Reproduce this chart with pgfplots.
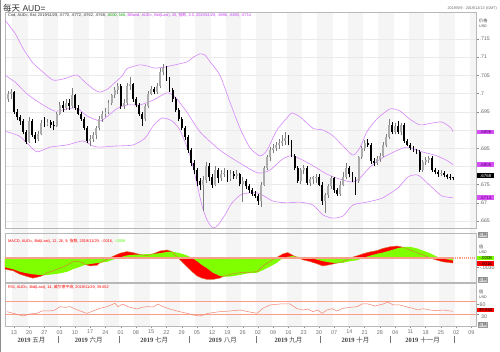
\documentclass[border=0pt]{standalone}
\usepackage{fontspec}
\setmainfont{Liberation Sans}
\newfontfamily\cjk{Noto Sans CJK SC}
\newfontfamily\sernum{Liberation Serif}
\usepackage{pgfplots}
\usepackage{pgfplotstable}
\pgfplotsset{compat=1.18}
\definecolor{stripe}{RGB}{245,245,245}
\definecolor{gridc}{RGB}{234,234,234}
\definecolor{bb}{RGB}{215,135,250}
\definecolor{bbtext}{RGB}{200,60,240}
\definecolor{upbody}{RGB}{172,172,172}
\definecolor{upwick}{RGB}{125,125,125}
\definecolor{salmon}{RGB}{248,160,140}
\definecolor{rsiline}{RGB}{245,130,110}
\definecolor{macdline}{RGB}{215,120,60}
\definecolor{limeg}{RGB}{128,255,0}
\definecolor{tagv}{RGB}{215,80,245}
\definecolor{tagtxt}{RGB}{90,0,120}

\pgfplotstableread{
t o h l c
-2 0.6985 0.7008 0.6978 0.6998
-1 0.6998 0.7012 0.6985 0.7003
0 0.7003 0.7008 0.6945 0.6950
1 0.6950 0.6958 0.6928 0.6935
2 0.6935 0.6942 0.6915 0.6925
3 0.6925 0.6930 0.6888 0.6895
4 0.6895 0.6900 0.6862 0.6867
5 0.6867 0.6935 0.6865 0.6925
6 0.6925 0.6930 0.6880 0.6885
7 0.6885 0.6895 0.6865 0.6875
8 0.6875 0.6898 0.6870 0.6890
9 0.6890 0.6928 0.6885 0.6920
10 0.6920 0.6935 0.6908 0.6915
11 0.6915 0.6930 0.6910 0.6922
12 0.6922 0.6928 0.6905 0.6915
13 0.6915 0.6925 0.6900 0.6912
14 0.6912 0.6950 0.6908 0.6945
15 0.6945 0.6978 0.6940 0.6970
16 0.6970 0.6980 0.6950 0.6960
17 0.6960 0.6985 0.6955 0.6975
18 0.6975 0.6985 0.6955 0.6965
19 0.6965 0.7015 0.6960 0.6995
20 0.6995 0.7000 0.6955 0.6960
21 0.6960 0.6968 0.6940 0.6945
22 0.6945 0.6950 0.6925 0.6930
23 0.6930 0.6935 0.6900 0.6905
24 0.6905 0.6910 0.6865 0.6870
25 0.6870 0.6885 0.6855 0.6875
26 0.6875 0.6895 0.6868 0.6885
27 0.6885 0.6910 0.6875 0.6905
28 0.6905 0.6938 0.6900 0.6930
29 0.6930 0.6952 0.6922 0.6945
30 0.6945 0.6960 0.6935 0.6950
31 0.6950 0.6982 0.6945 0.6975
32 0.6975 0.7000 0.6968 0.6995
33 0.6995 0.7018 0.6988 0.7010
34 0.7010 0.7030 0.7000 0.7020
35 0.7020 0.7025 0.6958 0.6965
36 0.6965 0.6985 0.6958 0.6975
37 0.6975 0.7030 0.6970 0.7020
38 0.7020 0.7045 0.7010 0.7025
39 0.7025 0.7030 0.6978 0.6985
40 0.6985 0.6992 0.6962 0.6970
41 0.6970 0.6975 0.6938 0.6945
42 0.6945 0.6950 0.6912 0.6930
43 0.6930 0.6972 0.6925 0.6965
44 0.6965 0.7008 0.6960 0.7000
45 0.7000 0.7022 0.6995 0.7012
46 0.7012 0.7018 0.6998 0.7005
47 0.7005 0.7028 0.7000 0.7020
48 0.7020 0.7070 0.7015 0.7060
49 0.7060 0.7082 0.7050 0.7070
50 0.7070 0.7075 0.7035 0.7040
51 0.7040 0.7045 0.7005 0.7010
52 0.7010 0.7015 0.6978 0.6985
53 0.6985 0.6990 0.6950 0.6955
54 0.6955 0.6960 0.6925 0.6930
55 0.6930 0.6935 0.6900 0.6905
56 0.6905 0.6910 0.6872 0.6880
57 0.6880 0.6885 0.6838 0.6845
58 0.6845 0.6850 0.6800 0.6810
59 0.6810 0.6818 0.6780 0.6790
60 0.6790 0.6795 0.6745 0.6760
61 0.6760 0.6768 0.6735 0.6750
62 0.6750 0.6775 0.6677 0.6762
63 0.6762 0.6812 0.6755 0.6800
64 0.6800 0.6810 0.6760 0.6770
65 0.6770 0.6780 0.6740 0.6750
66 0.6750 0.6800 0.6745 0.6790
67 0.6790 0.6795 0.6755 0.6768
68 0.6768 0.6790 0.6760 0.6778
69 0.6778 0.6795 0.6770 0.6782
70 0.6782 0.6790 0.6758 0.6765
71 0.6765 0.6790 0.6760 0.6780
72 0.6780 0.6788 0.6765 0.6775
73 0.6775 0.6790 0.6765 0.6778
74 0.6778 0.6782 0.6745 0.6752
75 0.6752 0.6772 0.6702 0.6760
76 0.6760 0.6765 0.6738 0.6745
77 0.6745 0.6752 0.6728 0.6735
78 0.6735 0.6740 0.6718 0.6725
79 0.6725 0.6732 0.6712 0.6720
80 0.6720 0.6725 0.6695 0.6705
81 0.6705 0.6758 0.6688 0.6750
82 0.6750 0.6802 0.6745 0.6795
83 0.6795 0.6832 0.6790 0.6825
84 0.6825 0.6852 0.6815 0.6845
85 0.6845 0.6862 0.6838 0.6850
86 0.6850 0.6868 0.6842 0.6858
87 0.6858 0.6875 0.6848 0.6865
88 0.6865 0.6885 0.6855 0.6870
89 0.6870 0.6895 0.6860 0.6878
90 0.6878 0.6885 0.6860 0.6868
91 0.6868 0.6872 0.6825 0.6830
92 0.6830 0.6835 0.6790 0.6796
93 0.6796 0.6800 0.6755 0.6760
94 0.6760 0.6795 0.6752 0.6790
95 0.6790 0.6805 0.6780 0.6795
96 0.6795 0.6800 0.6748 0.6755
97 0.6755 0.6770 0.6745 0.6765
98 0.6765 0.6775 0.6752 0.6770
99 0.6770 0.6778 0.6755 0.6772
100 0.6772 0.6778 0.6745 0.6750
101 0.6750 0.6758 0.6695 0.6705
102 0.6705 0.6728 0.6671 0.6721
103 0.6721 0.6752 0.6712 0.6745
104 0.6745 0.6775 0.6738 0.6768
105 0.6768 0.6772 0.6728 0.6735
106 0.6735 0.6740 0.6718 0.6725
107 0.6725 0.6760 0.6720 0.6750
108 0.6750 0.6785 0.6745 0.6770
109 0.6770 0.6810 0.6765 0.6795
110 0.6795 0.6800 0.6770 0.6780
111 0.6780 0.6785 0.6758 0.6765
112 0.6765 0.6770 0.6721 0.6760
113 0.6760 0.6830 0.6755 0.6826
114 0.6826 0.6855 0.6820 0.6850
115 0.6850 0.6872 0.6842 0.6865
116 0.6865 0.6875 0.6852 0.6860
117 0.6860 0.6865 0.6808 0.6815
118 0.6815 0.6822 0.6800 0.6810
119 0.6810 0.6828 0.6805 0.6820
120 0.6820 0.6838 0.6812 0.6830
121 0.6830 0.6868 0.6825 0.6860
122 0.6860 0.6890 0.6852 0.6880
123 0.6880 0.6929 0.6875 0.6915
124 0.6915 0.6922 0.6890 0.6895
125 0.6895 0.6918 0.6888 0.6910
126 0.6910 0.6925 0.6890 0.6895
127 0.6895 0.6920 0.6885 0.6915
128 0.6915 0.6920 0.6865 0.6870
129 0.6870 0.6875 0.6855 0.6860
130 0.6860 0.6865 0.6845 0.6850
131 0.6850 0.6855 0.6840 0.6845
132 0.6845 0.6848 0.6835 0.6840
133 0.6840 0.6845 0.6785 0.6790
134 0.6790 0.6818 0.6785 0.6812
135 0.6812 0.6825 0.6805 0.6818
136 0.6818 0.6830 0.6810 0.6822
137 0.6822 0.6828 0.6785 0.6790
138 0.6790 0.6795 0.6778 0.6785
139 0.6785 0.6790 0.6772 0.6780
140 0.6780 0.6790 0.6775 0.6783
141 0.6783 0.6788 0.6770 0.6776
142 0.6776 0.6780 0.6765 0.6772
143 0.6772 0.6778 0.6764 0.6770
144 0.6770 0.6772 0.6762 0.6768
}\candles

\pgfplotstableread{
t p
-3.0 0.7202
0.3 0.7166
2.9 0.7125
4.6 0.7103
6.2 0.7084
9.5 0.7059
12.8 0.7037
16.1 0.7040
19.0 0.7048
20.7 0.7051
22.6 0.7037
25.9 0.7013
28.2 0.7004
30.8 0.7013
32.5 0.7026
35.4 0.7048
37.0 0.7068
39.7 0.7076
41.3 0.7079
43.6 0.7076
46.2 0.7070
49.5 0.7073
52.8 0.7079
56.7 0.7087
59.0 0.7101
61.0 0.7109
62.6 0.7106
64.3 0.7087
67.5 0.7051
70.8 0.6977
74.1 0.6905
77.4 0.6851
80.7 0.6829
83.0 0.6845
86.2 0.6900
89.5 0.6933
91.1 0.6947
93.8 0.6936
98.0 0.6905
101.3 0.6900
104.6 0.6884
107.9 0.6856
111.1 0.6831
113.4 0.6851
115.7 0.6895
119.0 0.6930
123.3 0.6958
126.6 0.6952
129.8 0.6930
133.1 0.6914
137.0 0.6919
140.3 0.6922
143.0 0.6908
144.0 0.6896
}\bbupper

\pgfplotstableread{
t p
-3.0 0.7051
0.3 0.7032
2.0 0.7018
4.3 0.6999
8.5 0.6974
13.4 0.6952
17.4 0.6958
20.7 0.6960
23.9 0.6939
28.2 0.6925
30.8 0.6939
34.0 0.6960
37.4 0.6969
41.3 0.6969
45.6 0.6982
50.2 0.7002
52.8 0.6991
56.7 0.6949
61.0 0.6895
67.5 0.6845
74.1 0.6809
80.0 0.6782
83.9 0.6790
88.2 0.6821
91.5 0.6829
97.0 0.6807
102.6 0.6779
106.9 0.6765
111.1 0.6757
113.4 0.6768
116.7 0.6798
120.7 0.6823
125.9 0.6845
129.2 0.6853
133.8 0.6840
138.0 0.6831
141.6 0.6818
144.0 0.6805
}\bbmid

\pgfplotstableread{
t p
-3.0 0.6897
1.6 0.6884
4.3 0.6864
7.5 0.6840
11.8 0.6853
17.4 0.6859
22.6 0.6870
25.9 0.6856
28.2 0.6853
33.1 0.6856
39.0 0.6859
43.0 0.6878
45.6 0.6911
48.5 0.6933
51.8 0.6925
54.4 0.6900
57.7 0.6831
59.7 0.6763
61.6 0.6694
63.3 0.6653
65.2 0.6631
66.9 0.6639
69.2 0.6667
71.5 0.6700
74.8 0.6724
80.0 0.6727
84.9 0.6705
89.5 0.6700
93.8 0.6702
98.0 0.6694
101.3 0.6667
104.6 0.6658
107.9 0.6664
111.1 0.6694
115.7 0.6702
120.7 0.6713
125.9 0.6741
129.2 0.6771
132.5 0.6776
137.0 0.6743
140.3 0.6719
144.0 0.6714
}\bblower

% MACD in units of 0.001: A = signal (green), B = MACD (red / orange line)
\pgfplotstableread{
t A B
-3.0 -2.9 -3.5
-0.3 -3.5 -4.0
2.0 -4.3 -5.1
4.3 -4.8 -5.8
6.2 -5.1 -6.3
8.5 -5.3 -5.8
9.8 -5.3 -5.3
10.8 -5.3 -4.6
12.8 -5.1 -4.0
15.1 -4.8 -3.2
17.4 -4.3 -2.2
19.3 -3.5 -1.2
20.7 -3.1 -1.0
22.3 -2.5 -1.4
23.3 -2.2 -2.0
24.9 -1.9 -2.5
27.2 -1.6 -2.3
28.2 -1.5 -1.5
30.5 -1.2 -0.4
33.1 -0.3 0.8
34.8 0.2 1.5
37.0 0.8 2.0
39.0 1.0 1.7
41.3 1.1 1.1
43.6 1.2 0.7
45.6 1.3 1.3
47.9 1.5 2.2
50.2 1.9 2.5
51.8 2.0 2.0
53.4 1.7 0.4
55.1 1.3 -1.2
56.7 0.8 -2.7
58.4 0.0 -4.3
60.0 -1.0 -5.6
61.6 -2.2 -6.3
63.3 -3.2 -6.7
65.2 -4.6 -6.7
67.5 -5.6 -6.3
68.5 -5.8 -5.8
70.8 -5.8 -5.1
74.1 -5.3 -4.6
76.7 -4.8 -4.5
79.7 -4.6 -4.3
81.6 -3.8 -2.5
83.9 -2.7 -1.1
86.2 -1.5 0.2
88.2 0.0 1.3
89.8 0.4 1.7
91.5 0.6 0.8
92.8 0.4 0.2
94.8 0.2 -0.6
97.0 0.0 -1.1
99.3 -0.5 -1.8
101.3 -1.0 -2.5
103.6 -1.4 -2.1
105.9 -1.6 -1.6
107.9 -1.5 -1.1
110.2 -1.0 0.0
112.5 -0.7 0.7
114.4 0.0 1.3
116.7 0.7 1.9
119.0 1.3 2.3
121.0 1.7 3.0
123.3 2.3 3.5
125.6 3.0 3.75
127.5 3.4 3.4
129.8 3.5 2.5
132.1 3.0 1.7
134.1 2.3 1.0
136.4 1.5 0.0
138.7 0.4 -0.7
140.7 -0.2 -1.2
144.0 -0.8 -1.6
}\macd

\pgfplotstableread{
t r
-2.3 38
-0.3 33
3.0 25
5.2 31
7.5 33
9.2 40
11.8 40
13.4 43
15.1 53
16.7 51
18.4 53
20.0 46
22.3 38
23.9 33
25.9 40
28.2 48
30.5 53
33.1 63
34.1 53
35.7 61
37.4 53
40.3 46
42.0 51
43.6 53
45.6 52
47.2 61
48.9 53
51.1 46
53.4 40
56.7 33
58.7 28
61.0 25
62.0 28
63.6 33
65.2 35
67.5 38
70.8 40
74.1 43
76.7 38
79.7 33
81.6 48
83.9 58
87.2 61
90.5 61
92.8 47
94.8 43
96.4 46
98.0 38
99.7 43
101.0 33
102.6 43
104.3 47
105.9 40
107.9 48
110.2 51
112.5 53
114.1 61
116.1 61
118.4 55
121.0 61
122.6 67
124.3 58
126.6 58
128.9 52
130.8 48
132.5 43
134.1 47
136.4 43
138.7 41
140.7 43
143.0 40
144.0 39.652
}\rsi

\pgfplotsset{
  panel/.style={
    scale only axis, width=471pt, xmin=-2.95, xmax=151.5,
    clip mode=individual,
    axis line style={black!28, line width=0.5pt},
    xtick=\empty, ytick pos=right, tick align=outside,
    major tick length=2.5pt, tick style={black!45, line width=0.4pt},
    yticklabel style={font=\fontsize{5.2}{5.2}\selectfont, text=black!60, inner sep=1pt},
  },
}
\newcommand\rtag[4]{\node[fill=#1, text=#2, anchor=west, inner xsep=0.8pt, inner ysep=0.5pt,
  minimum width=17pt, font=\fontsize{4.4}{4.4}\selectfont] at (477,{352-#4}) {#3};}

\begin{document}
\begin{tikzpicture}[x=1pt,y=1pt]
\path[use as bounding box] (0,0) rectangle (500,352);
\fill[white] (0,0) rectangle (500,352);
% weekly stripes behind all panels
\foreach \k in {0,...,14} {
  \fill[stripe] ({14+3.04953*(10*\k-0.5)},26) rectangle ({14+3.04953*(10*\k+4.5)},340);
}
\fill[stripe] ({14+3.04953*149.5},26) rectangle (476,340);
\draw[black!45, line width=1.2pt] (0.6,0) -- (0.6,352);

% ---------------- price panel
\begin{axis}[panel, at={(5pt,124pt)}, anchor=south west, height=216pt,
  ymin=0.6631, ymax=0.7224,
  ytick={0.665,0.670,0.675,0.680,0.685,0.690,0.695,0.700,0.705,0.710,0.715},
  yticklabels={.665,.67,.675,{},.685,{},.695,.7,.705,.71,.715},
  ymajorgrids, grid style={gridc, line width=0.4pt}]
\addplot[bb, line width=0.6pt, smooth, tension=0.4] table[x=t,y=p] {\bbupper};
\addplot[bb, line width=0.6pt, smooth, tension=0.4] table[x=t,y=p] {\bbmid};
\addplot[bb, line width=0.6pt, smooth, tension=0.4] table[x=t,y=p] {\bblower};
% wicks
\addplot[draw=none, error bars/.cd, y dir=plus, y explicit, error mark=none,
  error bar style={draw=upwick, solid, line width=0.5pt}]
  table[x=t, y expr={\thisrow{c}>=\thisrow{o} ? \thisrow{l} : nan},
        y error plus expr={\thisrow{h}-\thisrow{l}}] {\candles};
\addplot[draw=none, error bars/.cd, y dir=plus, y explicit, error mark=none,
  error bar style={draw=black, solid, line width=0.5pt}]
  table[x=t, y expr={\thisrow{c}<\thisrow{o} ? \thisrow{l} : nan},
        y error plus expr={\thisrow{h}-\thisrow{l}}] {\candles};
% bodies
\addplot[draw=none, error bars/.cd, y dir=plus, y explicit, error mark=none,
  error bar style={draw=upbody, solid, line width=1.9pt}]
  table[x=t, y expr={\thisrow{c}>=\thisrow{o} ? \thisrow{o} : nan},
        y error plus expr={\thisrow{c}-\thisrow{o}}] {\candles};
\addplot[draw=none, error bars/.cd, y dir=plus, y explicit, error mark=none,
  error bar style={draw=black, solid, line width=1.9pt}]
  table[x=t, y expr={\thisrow{c}<\thisrow{o} ? \thisrow{c} : nan},
        y error plus expr={\thisrow{o}-\thisrow{c}}] {\candles};
\end{axis}

% ---------------- MACD panel
\begin{axis}[panel, at={(5pt,70pt)}, anchor=south west, height=49pt,
  ymin=-7.5, ymax=7.8, ytick={-3.0}, yticklabels={-.0030}]
\addplot[fill=red, draw=none] table[x=t,y=B] {\macd} \closedcycle;
\addplot[fill=limeg, draw=none] table[x=t,y=A] {\macd} \closedcycle;
\addplot[macdline, line width=0.45pt] table[x=t,y=B] {\macd};
\draw[salmon, line width=1.1pt] (axis cs:-2.95,0) -- (axis cs:144,0);
\draw[salmon, line width=1.1pt, densely dotted] (axis cs:144,0) -- (axis cs:151.5,0);
\end{axis}

% ---------------- RSI panel
\begin{axis}[panel, at={(5pt,26pt)}, anchor=south west, height=43pt,
  ymin=-5, ymax=124, ytick={30,60}, yticklabels={{},60},
  xtick={0,5,...,150},
  xticklabels={13,20,27,03,10,17,24,01,08,15,22,29,05,12,19,26,02,09,16,23,30,07,14,21,28,04,11,18,25,02,09},
  xtick pos=bottom,
  xticklabel style={font=\fontsize{5.5}{5.5}\selectfont, text=black!55, inner sep=1.5pt}]
\draw[salmon, line width=0.8pt] (axis cs:-2.95,70) -- (axis cs:151.5,70);
\draw[salmon, line width=1.3pt] (axis cs:-2.95,30) -- (axis cs:151.5,30);
\addplot[rsiline, line width=0.5pt] table[x=t,y=r] {\rsi};
\end{axis}

% ---------------- texts
\node[anchor=west, font=\fontsize{8.5}{8.5}\selectfont, text=black!80, inner sep=0] at (3,344) {{\cjk 每天} AUD=};
\node[anchor=east, font=\fontsize{3.8}{3.8}\selectfont, text=black!60, inner sep=0] at (497,343) {2019/5/9 - 2019/12/13 (GMT)};

\node[anchor=west, font=\fontsize{3.9}{3.9}\selectfont, inner sep=0] at (8,337)
 {\color{black!80}Cnd, AUD=, Bid, 2019/11/29, .6770, .6772, .6762, .6768, \color{green!60!black}.0000, N/A, \color{bbtext}BBand, AUD=, Bid(Last), 20, {\cjk 指数}, 2.0, 2019/11/29, .6896, .6805, .6714};
\node[anchor=west, font=\fontsize{3.9}{3.9}\selectfont, inner sep=0] at (8,111)
 {\color{red}MACD, AUD=, Bid(Last), 12, 26, 9, {\cjk 指数}, 2019/11/29, -.0016, \color{green!70!yellow}-.0008};
\node[anchor=west, font=\fontsize{3.9}{3.9}\selectfont, inner sep=0] at (8,65)
 {\color{red}RSI, AUD=, Bid(Last), 14, {\cjk 威尔德平滑}, 2019/11/29, 39.652};

% right labels
\node[anchor=west, font=\fontsize{4.2}{4.2}\selectfont\cjk, text=black!70, inner sep=0] at (479,331) {价格};
\node[anchor=west, font=\fontsize{3.6}{3.6}\selectfont, text=black!70, inner sep=0] at (479,326) {USD};
\rtag{tagv}{tagtxt}{.6896}{132}
\rtag{tagv}{tagtxt}{.6805}{164.5}
\rtag{black}{white}{.6768}{175.5}
\rtag{tagv}{tagtxt}{.6714}{197.5}
\node[anchor=west, fill=black!12, draw=black!40, font=\fontsize{4.2}{4.2}\selectfont\cjk, text=black!70, inner sep=0.5pt] at (478,117) {价格};

\node[anchor=west, font=\fontsize{4.2}{4.2}\selectfont\cjk, text=black!70, inner sep=0] at (479,105) {值};
\node[anchor=west, font=\fontsize{3.6}{3.6}\selectfont, text=black!70, inner sep=0] at (479,99.5) {USD};
\rtag{limeg}{black}{-.0008}{258}
\rtag{red}{black}{-.0016}{263.5}
\node[anchor=west, fill=black!12, draw=black!40, font=\fontsize{4.2}{4.2}\selectfont\cjk, text=black!70, inner sep=0.5pt] at (478,72) {价格};

\node[anchor=west, font=\fontsize{4.2}{4.2}\selectfont\cjk, text=black!70, inner sep=0] at (479,60) {值};
\node[anchor=west, font=\fontsize{3.6}{3.6}\selectfont, text=black!70, inner sep=0] at (479,54.5) {USD};
\rtag{red}{black}{39.652}{310}
\node[anchor=west, font=\fontsize{5.2}{5.2}\selectfont, text=black!60, inner sep=0] at (481,{352-316.5}) {30};
\node[anchor=west, fill=black!12, draw=black!40, font=\fontsize{4.2}{4.2}\selectfont\cjk, text=black!70, inner sep=0.5pt] at (478,27) {价格};

% month labels
\foreach \tt/\lab in {5.75/五月, 24.5/六月, 46/七月, 68.5/八月, 90/九月, 112/十月, 134/十一月} {
  \node[font=\fontsize{6.5}{6.5}\selectfont, text=black!75, inner sep=0] at ({14+3.04953*\tt},12) {{\sernum\bfseries 2019} {\cjk\lab}};
}
\foreach \tt in {14.5,34.5,57.5,79.5,100.5,123.5,144.5} {
  \draw[black!55, line width=0.5pt] ({14+3.04953*\tt},8.5) -- ({14+3.04953*\tt},15.5);
}
\end{tikzpicture}
\end{document}
